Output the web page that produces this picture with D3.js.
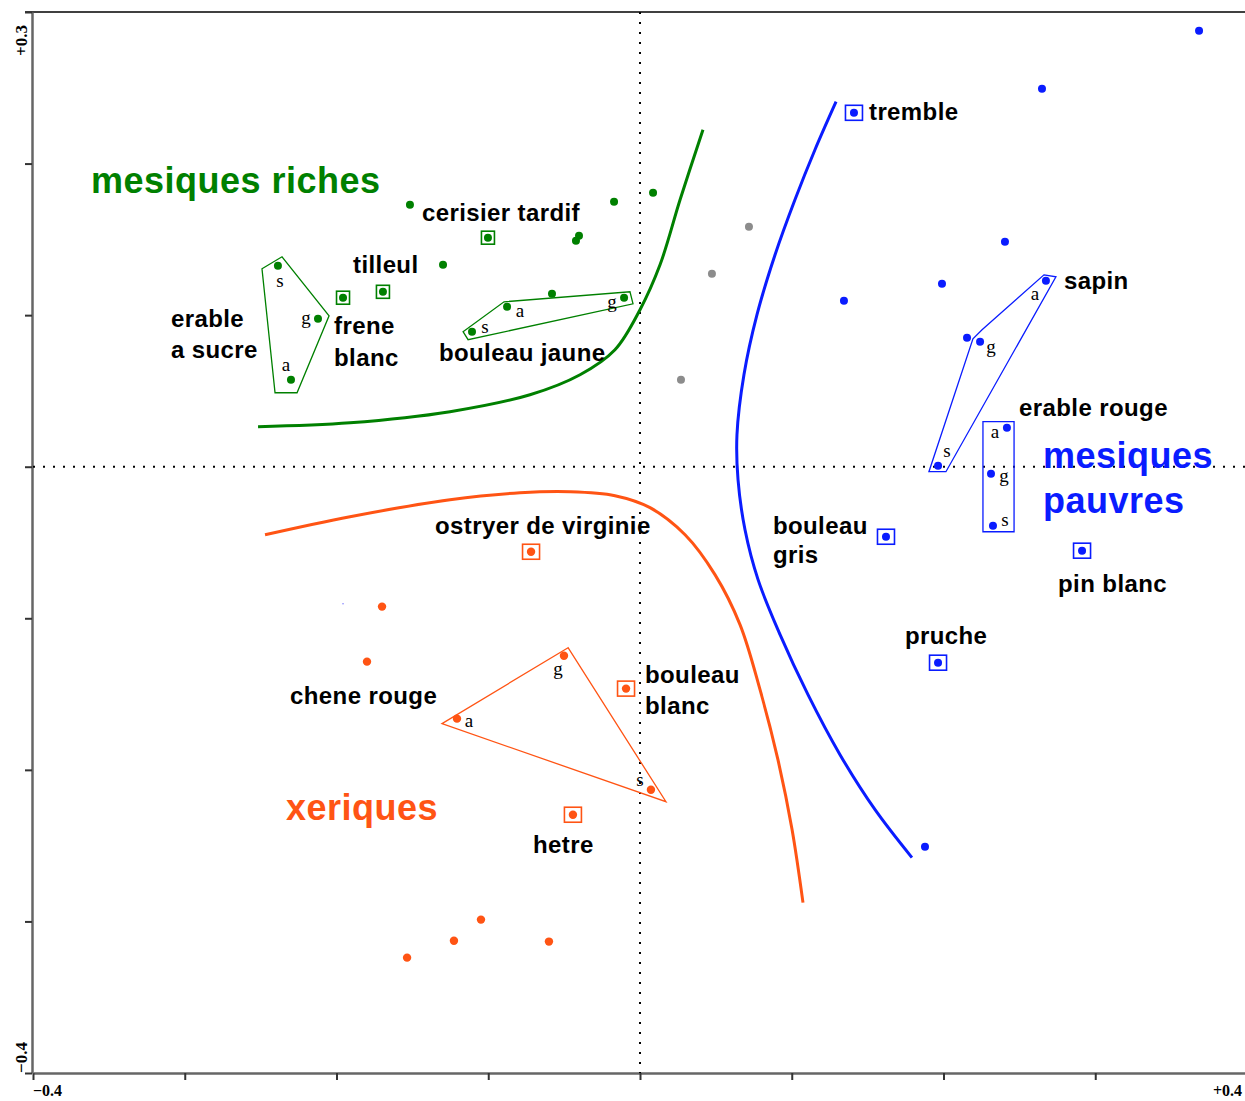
<!DOCTYPE html>
<html>
<head>
<meta charset="utf-8">
<script src="https://cdn.jsdelivr.net/npm/d3@7"></script>
<style>
  html, body { margin: 0; padding: 0; background: #fff; }
  svg { display: block; }
</style>
</head>
<body>
<svg id="chart" width="1245" height="1101"></svg>
<script>
// ---------------- DATA (values in factorial-plane units) ----------------
const xDomain = [-0.4, 0.4];
const yDomain = [-0.4, 0.3];
const xTicks = [-0.4, -0.3, -0.2, -0.1, 0, 0.1, 0.2, 0.3, 0.4];
const yTicks = [-0.4, -0.3, -0.2, -0.1, 0, 0.1, 0.2, 0.3];
const xTickLabels = [{v: -0.4, t: "\u22120.4"}, {v: 0.4, t: "+0.4"}];
const yTickLabels = [{v: 0.3, t: "+0.3"}, {v: -0.4, t: "\u22120.4"}];

// plain dots
const greenDots = [
  [-0.2386, 0.1326], [-0.2122, 0.0976], [-0.2300, 0.0574],
  [-0.1957, 0.1115], [-0.1694, 0.1154], [-0.1298, 0.1332],
  [-0.1002, 0.1511], [-0.1516, 0.1728], [-0.0422, 0.1491],
  [-0.0402, 0.1524], [-0.0171, 0.1748], [0.0086, 0.1807],
  [-0.1107, 0.0891], [-0.0876, 0.1055], [-0.0580, 0.1141], [-0.0105, 0.1115]
];
const grayDots = [[0.0718, 0.1583], [0.0474, 0.1273], [0.0270, 0.0574]];
const blueDots = [
  [0.3684, 0.2876], [0.2649, 0.2493], [0.2405, 0.1484], [0.1990, 0.1207],
  [0.1344, 0.1095], [0.1410, 0.2335],
  [0.2675, 0.1227], [0.2241, 0.0825], [0.2155, 0.0851], [0.1964, 0.0007],
  [0.2418, 0.0257], [0.2313, -0.0046], [0.2326, -0.0389],
  [0.1621, -0.0462], [0.2913, -0.0554], [0.1964, -0.1293], [0.1878, -0.2507]
];
const orangeDots = [
  [-0.0718, -0.0561], [-0.1700, -0.0923], [-0.1799, -0.1286],
  [-0.1206, -0.1662], [-0.0501, -0.1247], [0.0072, -0.2131],
  [-0.0092, -0.1464], [-0.0442, -0.2296],
  [-0.1048, -0.2988], [-0.1226, -0.3127], [-0.1535, -0.3239], [-0.0600, -0.3133]
];
const strayDots = [[-0.1957, -0.0904]];

// boxed (single-point species)
const greenBoxes = [[-0.1957, 0.1115], [-0.1694, 0.1154], [-0.1002, 0.1511]];
const blueBoxes = [[0.1410, 0.2335], [0.1621, -0.0462], [0.2913, -0.0554], [0.1964, -0.1293]];
const orangeBoxes = [[-0.0718, -0.0561], [-0.0092, -0.1464], [-0.0442, -0.2296]];

// hulls around multi-point species
const hullErableSucre = [[-0.2491, 0.1306], [-0.2359, 0.1385], [-0.2049, 0.0996], [-0.2260, 0.0488], [-0.2405, 0.0488]];
const hullBouleauJaune = [[-0.1166, 0.0891], [-0.0896, 0.1088], [-0.0066, 0.1154], [-0.0046, 0.1075], [-0.1133, 0.0838]];
const hullSapin = [[0.2662, 0.1266], [0.2741, 0.1253], [0.2016, -0.0033], [0.1904, -0.0033], [0.2194, 0.0844], [0.2254, 0.0904]];
const hullErableRouge = [[0.2260, 0.0297], [0.2465, 0.0297], [0.2465, -0.0429], [0.2260, -0.0429]];
const hullCheneRouge = [[-0.0474, -0.1194], [-0.1305, -0.1695], [0.0171, -0.2210]];

// boundary curves
const curveGreen = [
  [-0.2517, 0.0264], [-0.1911, 0.0290], [-0.1252, 0.0363], [-0.0725, 0.0475],
  [-0.0395, 0.0607], [-0.0165, 0.0772], [0.0000, 0.1036], [0.0132, 0.1332],
  [0.0264, 0.1761], [0.0415, 0.2223]
];
const curveOrange = [
  [-0.2471, -0.0449], [-0.1911, -0.0330], [-0.1252, -0.0218], [-0.0791, -0.0172],
  [-0.0461, -0.0165], [-0.0165, -0.0191], [0.0066, -0.0270], [0.0297, -0.0449],
  [0.0494, -0.0712], [0.0659, -0.1042], [0.0791, -0.1471], [0.0909, -0.1933],
  [0.1002, -0.2394], [0.1074, -0.2876]
];
const curveBlue = [
  [0.1292, 0.2408], [0.1153, 0.2091], [0.1021, 0.1761], [0.0890, 0.1398],
  [0.0771, 0.1003], [0.0685, 0.0607], [0.0639, 0.0211], [0.0646, -0.0086],
  [0.0692, -0.0416], [0.0778, -0.0745], [0.0923, -0.1108], [0.1107, -0.1504],
  [0.1318, -0.1900], [0.1549, -0.2263], [0.1792, -0.2579]
];

// species labels [text, x, y(baseline)]
const speciesLabels = [
  ["cerisier tardif", -0.1437, 0.1623],
  ["tilleul", -0.1891, 0.1280],
  ["frene", -0.2016, 0.0877], ["blanc", -0.2016, 0.0666],
  ["erable", -0.3091, 0.0923], ["a sucre", -0.3091, 0.0719],
  ["bouleau jaune", -0.1325, 0.0699],
  ["tremble", 0.1509, 0.2289],
  ["sapin", 0.2794, 0.1174],
  ["erable rouge", 0.2498, 0.0336],
  ["bouleau", 0.0876, -0.0442], ["gris", 0.0876, -0.0633],
  ["pin blanc", 0.2755, -0.0825],
  ["pruche", 0.1746, -0.1168],
  ["ostryer de virginie", -0.1351, -0.0442],
  ["chene rouge", -0.2306, -0.1563],
  ["bouleau", 0.0033, -0.1425], ["blanc", 0.0033, -0.1629],
  ["hetre", -0.0705, -0.2546]
];
// group labels
const groupLabels = [
  ["mesiques riches", -0.3618, 0.1807, "green"],
  ["mesiques", 0.2656, -0.0007, "blue"],
  ["pauvres", 0.2656, -0.0303, "blue"],
  ["xeriques", -0.2333, -0.2328, "orange"]
];
// age-class letters (a, g, s) [text, x, y(baseline)]
const ageLetters = [
  ["s", -0.2372, 0.1187], ["g", -0.2201, 0.0943], ["a", -0.2333, 0.0633],
  ["s", -0.1021, 0.0884], ["a", -0.0791, 0.0989], ["g", -0.0185, 0.1049],
  ["a", 0.2603, 0.1102], ["g", 0.2313, 0.0752], ["s", 0.2023, 0.0066],
  ["a", 0.2339, 0.0191], ["g", 0.2399, -0.0099], ["s", 0.2405, -0.0389],
  ["a", -0.1127, -0.1715], ["g", -0.0540, -0.1372], ["s", 0.0000, -0.2104]
];

// ---------------- DRAWING ----------------
const COL = { green: "#008000", blue: "#0a1cff", orange: "#ff5414", gray: "#8c8c8c" };
const svg = d3.select("#chart");
const x = d3.scaleLinear().domain(xDomain).range([33, 1247]);
const y = d3.scaleLinear().domain(yDomain).range([1073, 12]);

// top frame line
svg.append("line").attr("x1", 25).attr("x2", 1245).attr("y1", y(0.3)).attr("y2", y(0.3))
  .attr("stroke", "#000").attr("stroke-width", 1.5);

// axes
const gx = svg.append("g").attr("transform", `translate(0,${y(-0.4)})`)
  .call(d3.axisBottom(x).tickValues(xTicks).tickFormat("").tickSize(7).tickSizeOuter(0));
const gy = svg.append("g").attr("transform", `translate(${x(-0.4) - 1},0)`)
  .call(d3.axisLeft(y).tickValues(yTicks).tickFormat("").tickSize(7).tickSizeOuter(0));
[gx, gy].forEach(g => {
  g.select(".domain").attr("stroke", "#666").attr("stroke-width", 2.5);
  g.selectAll(".tick line").attr("stroke", "#333").attr("stroke-width", 2);
});

svg.selectAll(".xtl").data(xTickLabels).join("text")
  .attr("x", d => d.v < 0 ? x(d.v) : x(d.v) - 5)
  .attr("y", 1096)
  .attr("text-anchor", d => d.v < 0 ? "start" : "end")
  .attr("font-family", "Liberation Serif, serif").attr("font-weight", "bold").attr("font-size", 16)
  .text(d => d.t);
svg.selectAll(".ytl").data(yTickLabels).join("text")
  .attr("transform", d => `translate(27,${d.v > 0 ? y(d.v) + 44 : y(d.v)}) rotate(-90)`)
  .attr("text-anchor", "start")
  .attr("font-family", "Liberation Serif, serif").attr("font-weight", "bold").attr("font-size", 17)
  .text(d => d.t);

// dotted zero lines
svg.append("line").attr("x1", x(-0.4)).attr("x2", 1245).attr("y1", y(0)).attr("y2", y(0))
  .attr("stroke", "#000").attr("stroke-width", 2).attr("stroke-dasharray", "2,8");
svg.append("line").attr("x1", x(0)).attr("x2", x(0)).attr("y1", y(0.3)).attr("y2", y(-0.4))
  .attr("stroke", "#000").attr("stroke-width", 2).attr("stroke-dasharray", "2,8");

// boundary curves
const line = d3.line().x(d => x(d[0])).y(d => y(d[1])).curve(d3.curveCatmullRom.alpha(0.5));
[[curveGreen, COL.green], [curveOrange, COL.orange], [curveBlue, COL.blue]].forEach(([c, col]) => {
  svg.append("path").attr("d", line(c)).attr("fill", "none").attr("stroke", col).attr("stroke-width", 3);
});

// hulls
const poly = d => "M" + d.map(p => `${x(p[0])},${y(p[1])}`).join("L") + "Z";
[[hullErableSucre, COL.green], [hullBouleauJaune, COL.green], [hullSapin, COL.blue],
 [hullErableRouge, COL.blue], [hullCheneRouge, COL.orange]].forEach(([h, col]) => {
  svg.append("path").attr("d", poly(h)).attr("fill", "none").attr("stroke", col).attr("stroke-width", 1.3);
});

// boxes
function boxes(data, col, w, h) {
  svg.append("g").selectAll("rect").data(data).join("rect")
    .attr("x", d => x(d[0]) - w / 2).attr("y", d => y(d[1]) - h / 2)
    .attr("width", w).attr("height", h)
    .attr("fill", "none").attr("stroke", col).attr("stroke-width", 1.6);
}
boxes(greenBoxes, COL.green, 13, 13);
boxes(blueBoxes, COL.blue, 17, 15);
boxes(orangeBoxes, COL.orange, 17, 15);

// dots
function dots(data, col, r) {
  svg.append("g").selectAll("circle").data(data).join("circle")
    .attr("cx", d => x(d[0])).attr("cy", d => y(d[1])).attr("r", r).attr("fill", col);
}
dots(greenDots, COL.green, 4);
dots(grayDots, COL.gray, 4);
dots(blueDots, COL.blue, 4);
dots(orangeDots, COL.orange, 4.2);
dots(strayDots, "#8080ff", 0.8);

// age letters
svg.append("g").selectAll("text").data(ageLetters).join("text")
  .attr("x", d => x(d[1])).attr("y", d => y(d[2]))
  .attr("text-anchor", "middle")
  .attr("font-family", "Liberation Serif, serif").attr("font-size", 19).attr("fill", "#000")
  .text(d => d[0]);

// species labels
svg.append("g").selectAll("text").data(speciesLabels).join("text")
  .attr("x", d => x(d[1])).attr("y", d => y(d[2]))
  .attr("font-family", "Liberation Sans, Arial, sans-serif").attr("font-weight", "bold")
  .attr("font-size", 24).attr("letter-spacing", 0.4).attr("fill", "#000")
  .text(d => d[0]);

// group labels
svg.append("g").selectAll("text").data(groupLabels).join("text")
  .attr("x", d => x(d[1])).attr("y", d => y(d[2]))
  .attr("font-family", "Liberation Sans, Arial, sans-serif").attr("font-weight", "bold")
  .attr("font-size", 36).attr("letter-spacing", 0.5).attr("fill", d => COL[d[3]])
  .text(d => d[0]);
</script>
</body>
</html>
